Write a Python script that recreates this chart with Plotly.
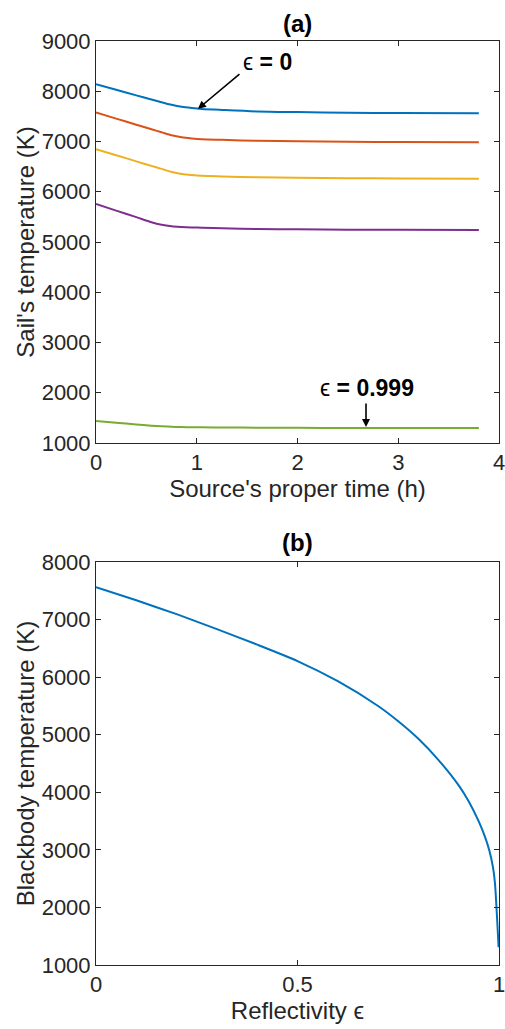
import plotly.graph_objects as go

# ---------------- data ----------------
time_h = [0, 0.2, 0.4, 0.55, 0.65, 0.75, 0.85, 0.95, 1.05, 1.25, 1.6, 2.0, 2.5, 3.0, 3.8]
temp_eps0 = [8140, 8030, 7918, 7835, 7782, 7730, 7690, 7666, 7648, 7628, 7598, 7585, 7573, 7566, 7561]
temp_eps025 = [7576, 7455, 7335, 7245, 7185, 7125, 7085, 7062, 7046, 7033, 7014, 7004, 6995, 6989, 6985]
temp_eps05 = [6848, 6728, 6605, 6515, 6455, 6395, 6355, 6333, 6318, 6305, 6287, 6278, 6270, 6265, 6260]
temp_eps075 = [5755, 5625, 5495, 5395, 5345, 5315, 5300, 5290, 5284, 5272, 5259, 5252, 5246, 5242, 5239]
temp_eps0999 = [1440, 1405, 1370, 1345, 1332, 1322, 1317, 1314, 1312, 1309, 1305, 1302, 1301, 1300, 1299]

reflectivity = [0, 0.1, 0.2, 0.3, 0.4, 0.5, 0.6, 0.7, 0.75, 0.8, 0.85, 0.9, 0.925,
                0.95, 0.965, 0.976, 0.985, 0.99, 0.999]
bb_temp = [7565, 7335, 7095, 6835, 6565, 6280, 5930, 5500, 5235, 4930, 4560, 4120, 3840,
           3490, 3230, 2990, 2700, 2420, 1310]

top_series = [
    ("ϵ = 0", temp_eps0, "#0072BD"),
    ("ϵ = 0.25", temp_eps025, "#D95319"),
    ("ϵ = 0.5", temp_eps05, "#EDB120"),
    ("ϵ = 0.75", temp_eps075, "#7E2F8E"),
    ("ϵ = 0.999", temp_eps0999, "#77AC30"),
]

x_ticks_top = [0, 1, 2, 3, 4]
y_ticks_top = [1000, 2000, 3000, 4000, 5000, 6000, 7000, 8000, 9000]
x_ticks_bot = [0, 0.5, 1]
x_ticklabels_bot = ["0", "0.5", "1"]
y_ticks_bot = [1000, 2000, 3000, 4000, 5000, 6000, 7000, 8000]

# ---------------- figure ----------------
FONT = "Liberation Sans, Arial, Helvetica, sans-serif"
INK = "#262626"

fig = go.Figure()
for name, vals, col in top_series:
    fig.add_trace(go.Scatter(x=time_h, y=vals, mode="lines", name=name,
                             line=dict(color=col, width=2, shape="spline", smoothing=0.8),
                             xaxis="x", yaxis="y", showlegend=False))

fig.add_trace(go.Scatter(x=reflectivity, y=bb_temp, mode="lines",
                         line=dict(color="#0072BD", width=2, shape="spline", smoothing=0.6),
                         xaxis="x2", yaxis="y2", showlegend=False))

axis_common = dict(showline=True, linecolor=INK, linewidth=1, mirror="ticks",
                   ticks="inside", ticklen=5, tickcolor=INK, tickwidth=1,
                   showgrid=False, zeroline=False, ticklabeloverflow="allow",
                   automargin=False,
                   tickfont=dict(family=FONT, size=22, color=INK))

title_font = dict(family=FONT, size=24, color=INK)

fig.update_layout(
    width=505, height=1029,
    margin=dict(l=96, r=6, t=41, b=64),
    plot_bgcolor="white", paper_bgcolor="white",
    font=dict(family=FONT, color=INK),
    xaxis=dict(domain=[0, 1], anchor="y", range=[0, 4], tickvals=x_ticks_top,
               title=dict(text="Source's proper time (h)", font=title_font, standoff=4),
               **axis_common),
    yaxis=dict(domain=[0.5649, 1], anchor="x", range=[1000, 9000], tickvals=y_ticks_top,
               title=dict(text="Sail's temperature (K)", font=title_font, standoff=0),
               **axis_common),
    xaxis2=dict(domain=[0, 1], anchor="y2", range=[0, 1], tickvals=x_ticks_bot, ticktext=x_ticklabels_bot,
                title=dict(text="Reflectivity ϵ", font=title_font, standoff=4),
                **axis_common),
    yaxis2=dict(domain=[0, 0.4361], anchor="x2", range=[1000, 8000], tickvals=y_ticks_bot,
                title=dict(text="Blackbody temperature (K)", font=title_font, standoff=0),
                **axis_common),
)

annotations = [
    dict(text="<b>(a)</b>", x=0.5, y=1.019, xref="paper", yref="paper", showarrow=False,
         xanchor="center", yanchor="middle", font=dict(family=FONT, size=24, color="black")),
    dict(text="<b>(b)</b>", x=0.5, y=0.4577, xref="paper", yref="paper", showarrow=False,
         xanchor="center", yanchor="middle", font=dict(family=FONT, size=24, color="black")),
    # labels
    dict(text="ϵ <b>= 0</b>", x=1.70, y=8585, xref="x", yref="y", showarrow=False,
         xanchor="center", yanchor="middle", font=dict(family=FONT, size=23, color="black")),
    dict(text="ϵ <b>= 0.999</b>", x=2.69, y=2094, xref="x", yref="y", showarrow=False,
         xanchor="center", yanchor="middle", font=dict(family=FONT, size=23, color="black")),
    # arrows
    dict(text="", x=1.012, y=7650, xref="x", yref="y", showarrow=True,
         ax=43, ay=-36, arrowhead=2, arrowsize=1, arrowwidth=1.6, arrowcolor="black"),
    dict(text="", x=2.68, y=1320, xref="x", yref="y", showarrow=True,
         ax=0, ay=-25, arrowhead=2, arrowsize=1, arrowwidth=1.6, arrowcolor="black"),
]
fig.update_layout(annotations=annotations)

fig.write_html("out.html", config={"displayModeBar": False},
               post_script="document.body.style.margin='0';document.body.style.overflow='hidden';")
